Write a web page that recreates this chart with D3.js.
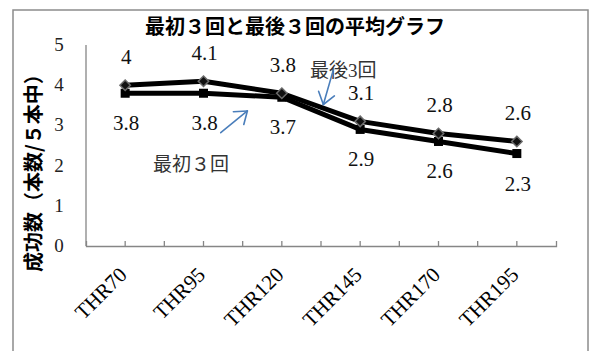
<!DOCTYPE html>
<html>
<head>
<meta charset="utf-8">
<script src="https://cdn.jsdelivr.net/npm/d3@7"></script>
<style>
body { margin: 0; background: #fff; }
</style>
</head>
<body>
<div id="chart"></div>
<script>
var categories = ["THR70", "THR95", "THR120", "THR145", "THR170", "THR195"];
var first3 = [3.8, 3.8, 3.7, 2.9, 2.6, 2.3];   // 最初３回
var last3 = [4, 4.1, 3.8, 3.1, 2.8, 2.6];      // 最後3回
var yTicks = [0, 1, 2, 3, 4, 5];

var W = 589, H = 351;
var serif = "'Liberation Serif', 'Times New Roman', serif";
var jp = "'Noto Sans CJK JP', sans-serif";

var svg = d3.select("#chart").append("svg")
    .attr("width", W)
    .attr("height", H);

// outer chart frame
svg.append("rect")
    .attr("x", 13).attr("y", 10)
    .attr("width", 575).attr("height", 400)
    .attr("fill", "none")
    .attr("stroke", "#8c8c8c")
    .attr("stroke-width", 1.5);

// scales
var x = d3.scaleBand().domain(categories).range([86, 556]).paddingInner(0).paddingOuter(0);
var bw = x.bandwidth();
var cx = function (i) { return x(categories[i]) + bw / 2; };
var y = d3.scaleLinear().domain([0, 5]).range([246, 45]);
// index scale, used to place the annotations between categories
var xi = d3.scaleLinear().domain([0, categories.length - 1]).range([cx(0), cx(categories.length - 1)]);

// title
svg.append("text")
    .attr("x", 295).attr("y", 34)
    .attr("text-anchor", "middle")
    .style("font-family", jp)
    .style("font-weight", "bold")
    .style("font-size", "20px")
    .text("最初３回と最後３回の平均グラフ");

// y axis title
svg.append("text")
    .attr("transform", "translate(32,168) rotate(-90)")
    .attr("text-anchor", "middle")
    .attr("dominant-baseline", "central")
    .style("font-family", jp)
    .style("font-weight", "bold")
    .style("font-size", "20px")
    .text("成功数（本数/５本中）");

// y axis: plain line, no ticks
svg.append("line")
    .attr("x1", 86).attr("x2", 86)
    .attr("y1", y(5)).attr("y2", y(0))
    .attr("stroke", "#868686")
    .attr("stroke-width", 1.3);

svg.selectAll(".ytick")
    .data(yTicks)
    .enter().append("text")
    .attr("class", "ytick")
    .attr("x", 59)
    .attr("y", function (d) { return y(d) + 6; })
    .attr("text-anchor", "middle")
    .style("font-family", serif)
    .style("font-size", "19px")
    .attr("fill", "#222")
    .text(function (d) { return d; });

// x axis
var xAxis = svg.append("g")
    .attr("transform", "translate(0," + y(0) + ")")
    .call(d3.axisBottom(x).tickSizeInner(-5).tickSizeOuter(-5));

xAxis.select(".domain").attr("stroke", "#868686").attr("stroke-width", 1.3);
xAxis.selectAll(".tick line").attr("stroke", "#868686").attr("stroke-width", 1.3);

// extra ticks on category boundaries
xAxis.selectAll(".btick")
    .data(categories.slice(1))
    .enter().append("line")
    .attr("class", "btick")
    .attr("x1", function (d) { return x(d); })
    .attr("x2", function (d) { return x(d); })
    .attr("y1", 0).attr("y2", -5)
    .attr("stroke", "#868686")
    .attr("stroke-width", 1.3);

xAxis.selectAll(".tick text")
    .attr("x", 0).attr("y", 0).attr("dy", 0)
    .attr("transform", "translate(3,30) rotate(-45)")
    .attr("text-anchor", "end")
    .style("font-family", serif)
    .style("font-size", "21px")
    .attr("fill", "#000");

// lines
var line = d3.line()
    .x(function (d, i) { return cx(i); })
    .y(function (d) { return y(d); });

svg.append("path")
    .datum(first3)
    .attr("d", line)
    .attr("fill", "none")
    .attr("stroke", "#000")
    .attr("stroke-width", 5)
    .attr("stroke-linejoin", "round");

svg.append("path")
    .datum(last3)
    .attr("d", line)
    .attr("fill", "none")
    .attr("stroke", "#000")
    .attr("stroke-width", 5)
    .attr("stroke-linejoin", "round");

// square markers (first 3)
svg.selectAll(".sq")
    .data(first3)
    .enter().append("rect")
    .attr("class", "sq")
    .attr("x", function (d, i) { return cx(i) - 4.5; })
    .attr("y", function (d) { return y(d) - 4.5; })
    .attr("width", 9).attr("height", 9)
    .attr("fill", "#000");

// diamond markers (last 3)
var diamond = d3.symbol().type(d3.symbolDiamond2).size(70);
svg.selectAll(".dm")
    .data(last3)
    .enter().append("path")
    .attr("class", "dm")
    .attr("d", diamond)
    .attr("transform", function (d, i) { return "translate(" + cx(i) + "," + y(d) + ")"; })
    .attr("fill", "#111")
    .attr("stroke", "#6b6b6b")
    .attr("stroke-width", 1.5);

// data labels
svg.selectAll(".lblTop")
    .data(last3)
    .enter().append("text")
    .attr("class", "lblTop")
    .attr("x", function (d, i) { return cx(i) + 1; })
    .attr("y", function (d) { return y(d) - 21; })
    .attr("text-anchor", "middle")
    .style("font-family", serif)
    .style("font-size", "21px")
    .attr("fill", "#111")
    .text(function (d) { return d; });

svg.selectAll(".lblBot")
    .data(first3)
    .enter().append("text")
    .attr("class", "lblBot")
    .attr("x", function (d, i) { return cx(i) + 1; })
    .attr("y", function (d) { return y(d) + 37; })
    .attr("text-anchor", "middle")
    .style("font-family", serif)
    .style("font-size", "21px")
    .attr("fill", "#111")
    .text(function (d) { return d; });

// annotations with blue arrows
var blue = "#4a7ebb";
function arrow(x1, y1, x2, y2) {
    var ang = Math.atan2(y2 - y1, x2 - x1);
    var len = 14, spread = Math.PI / 5;
    var g = svg.append("g")
        .attr("stroke", blue)
        .attr("stroke-width", 1.6)
        .attr("stroke-linecap", "round")
        .attr("fill", "none");
    g.append("line").attr("x1", x1).attr("y1", y1).attr("x2", x2).attr("y2", y2);
    [-spread, spread].forEach(function (s) {
        g.append("line")
            .attr("x1", x2).attr("y1", y2)
            .attr("x2", x2 - len * Math.cos(ang + s))
            .attr("y2", y2 - len * Math.sin(ang + s));
    });
}

svg.append("text")
    .attr("x", xi(2.36)).attr("y", y(4.2))
    .style("font-family", serif + ", " + jp)
    .style("font-size", "19px")
    .attr("fill", "#333")
    .text("最後3回");
arrow(xi(2.66), y(4.4), xi(2.53), y(3.52));

svg.append("text")
    .attr("x", xi(0.84)).attr("y", y(1.86))
    .attr("text-anchor", "middle")
    .style("font-family", serif + ", " + jp)
    .style("font-size", "19px")
    .attr("fill", "#333")
    .text("最初３回");
arrow(xi(1.22), y(2.82), xi(1.56), y(3.36));
</script>
</body>
</html>
